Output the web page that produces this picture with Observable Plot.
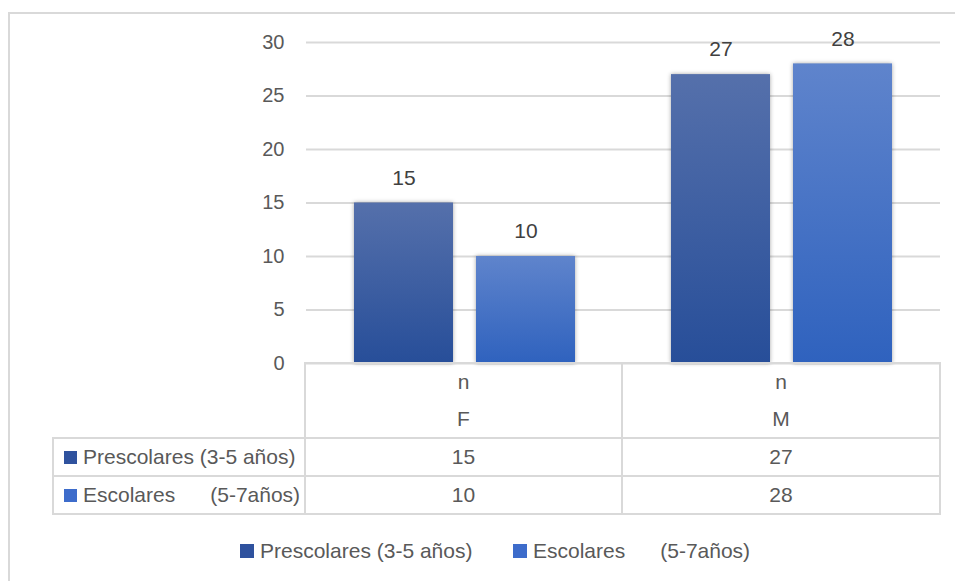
<!DOCTYPE html>
<html>
<head>
<meta charset="utf-8">
<script src="https://cdn.jsdelivr.net/npm/d3@7"></script>
<script src="https://cdn.jsdelivr.net/npm/@observablehq/plot@0.6"></script>
<style>
  html, body { margin: 0; padding: 0; background: #fff; }
  #wrap { position: relative; width: 955px; height: 581px; overflow: hidden; font-family: "Liberation Sans", Arial, sans-serif; color: #595959; }
  #frame { position: absolute; left: 8px; top: 12px; width: 1000px; height: 700px; border-left: 2px solid #d9d9d9; border-top: 2px solid #d9d9d9; }
  #chart { position: absolute; left: 0; top: 0; }
  .cell { position: absolute; box-sizing: border-box; display: flex; align-items: center; justify-content: center; font-size: 21px; white-space: pre; }
  .line { position: absolute; background: #d9d9d9; }
  .sw { display: inline-block; width: 13px; height: 13px; margin-right: 6px; }
  .rowlab { justify-content: flex-start; padding-left: 11px; }
  #legend { position: absolute; top: 537px; left: 0; width: 955px; height: 28px; font-size: 21px; white-space: pre; }
  #legend span.item { position: absolute; top: 0; height: 28px; display: inline-flex; align-items: center; }
  #legend .sw { width: 14px; height: 14px; }
</style>
</head>
<body>
<div id="wrap">
  <div id="frame"></div>
  <div id="chart"></div>
  <div id="table"></div>
  <div id="legend"></div>
</div>
<script>
const categories = ["F", "M"];
const headerTop = ["n", "n"];
const seriesNames = ["Prescolares (3-5 años)", "Escolares      (5-7años)"];
const prescolares = [15, 27];
const escolares = [10, 28];
const yTicks = [0, 5, 10, 15, 20, 25, 30];
const seriesColors = [["#5570ab", "#274e99"], ["#5f84cc", "#2f62be"]];
const swatchColors = ["#2f529e", "#3d6ccb"];

const seriesValues = [prescolares, escolares];
const data = [];
seriesValues.forEach((vals, si) => vals.forEach((v, ci) => data.push({sex: categories[ci], series: seriesNames[si], si, value: v})));

const W = 955, H = 366;
const chart = Plot.plot({
  width: W,
  height: H,
  marginTop: 42,
  marginBottom: 3,
  marginLeft: 305,
  marginRight: 15,
  style: {fontFamily: "Liberation Sans, Arial, sans-serif", fontSize: "20px", color: "#595959", background: "transparent", overflow: "visible"},
  fx: {domain: categories, padding: 0, axis: null},
  x: {domain: seriesNames, paddingInner: 0.19, paddingOuter: 0.385, axis: null},
  y: {domain: [0, 30], ticks: yTicks, tickSize: 0, tickPadding: 22, label: null, grid: false},
  marks: [
    Plot.gridY(yTicks, {stroke: "#d9d9d9", strokeOpacity: 1, strokeWidth: 2}),
    Plot.axisY(yTicks, {tickSize: 0, tickPadding: 22, fontSize: 20, fill: "#595959", label: null}),
    Plot.barY(data.filter(d => d.si === 0), {fx: "sex", x: "series", y: "value", fill: "url(#g0)", className: "bar"}),
    Plot.barY(data.filter(d => d.si === 1), {fx: "sex", x: "series", y: "value", fill: "url(#g1)", className: "bar"}),
    Plot.text(data, {fx: "sex", x: "series", y: "value", text: d => String(d.value), dy: -25, fontSize: 21, fill: "#404040"})
  ]
});
const defs = d3.select(chart).insert("defs", ":first-child");
seriesColors.forEach((c, i) => {
  const g = defs.append("linearGradient").attr("id", "g" + i).attr("x1", 0).attr("y1", 0).attr("x2", 0).attr("y2", 1);
  g.append("stop").attr("offset", "0%").attr("stop-color", c[0]);
  g.append("stop").attr("offset", "100%").attr("stop-color", c[1]);
});
d3.select(chart).selectAll(".bar rect").style("filter", "drop-shadow(0px 0px 2px rgba(0,0,0,0.35))");
document.getElementById("chart").appendChild(chart);

// data table beneath the axis (columns aligned with the fx facets)
const table = document.getElementById("table");
const colX = [53, 305, 622, 940];
const rowY = [363, 438, 476, 514];
function line(x, y, w, h) { const d = document.createElement("div"); d.className = "line"; Object.assign(d.style, {left: x + "px", top: y + "px", width: w + "px", height: h + "px"}); table.appendChild(d); }
function cell(x, y, w, h, html, cls) { const d = document.createElement("div"); d.className = "cell" + (cls ? " " + cls : ""); Object.assign(d.style, {left: x + "px", top: y + "px", width: w + "px", height: h + "px"}); d.innerHTML = html; table.appendChild(d); return d; }
line(colX[1] - 1, rowY[0] - 1, colX[3] - colX[1] + 2, 2);
for (let r = 1; r < rowY.length; r++) line(colX[0] - 1, rowY[r] - 1, colX[3] - colX[0] + 2, 2);
line(colX[0] - 1, rowY[1] - 1, 2, rowY[3] - rowY[1] + 2);
for (let c = 1; c < colX.length; c++) line(colX[c] - 1, rowY[0] - 1, 2, rowY[3] - rowY[0] + 2);
categories.forEach((cat, i) => {
  cell(colX[i + 1], rowY[0], colX[i + 2] - colX[i + 1], (rowY[1] - rowY[0]) / 2, headerTop[i]);
  cell(colX[i + 1], rowY[0] + (rowY[1] - rowY[0]) / 2, colX[i + 2] - colX[i + 1], (rowY[1] - rowY[0]) / 2, cat);
});
seriesNames.forEach((name, si) => {
  cell(colX[0], rowY[si + 1], colX[1] - colX[0], rowY[si + 2] - rowY[si + 1], `<span class="sw" style="background:${swatchColors[si]}"></span>${name}`, "rowlab");
  seriesValues[si].forEach((v, ci) => cell(colX[ci + 1], rowY[si + 1], colX[ci + 2] - colX[ci + 1], rowY[si + 2] - rowY[si + 1], String(v)));
});
// legend
const legend = document.getElementById("legend");
const legendLeft = [240, 513];
seriesNames.forEach((name, si) => {
  const s = document.createElement("span");
  s.className = "item";
  s.style.left = legendLeft[si] + "px";
  s.innerHTML = `<span class="sw" style="background:${swatchColors[si]}"></span>${name}`;
  legend.appendChild(s);
});
</script>
</body>
</html>
